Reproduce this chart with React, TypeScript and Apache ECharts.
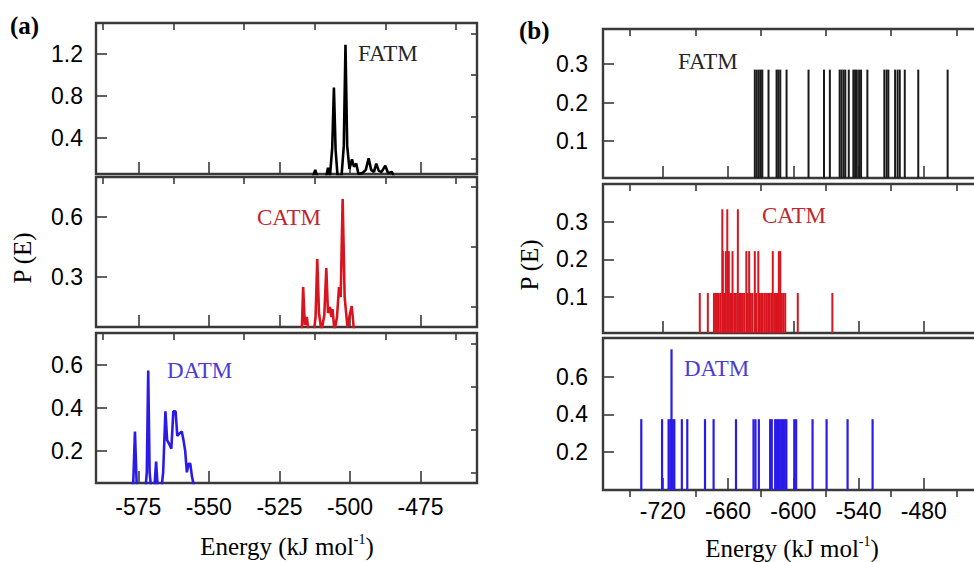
import React, { useEffect, useRef } from "react";
import * as echarts from "echarts";

// ---------- Panel (a): continuous energy distributions ----------
const aFatm: [number, number][] = [
  [-513.5, 0], [-512.3, 0.09], [-511.4, 0], [-508.6, 0], [-507.8, 0.11], [-507.1, 0.03],
  [-506.3, 0.3], [-505.7, 0.88], [-505.1, 0.28], [-504.4, 0.03], [-503.0, 0.03],
  [-502.2, 0.32], [-501.6, 1.29], [-501.0, 0.32], [-500.2, 0.1], [-499.3, 0.19],
  [-498.6, 0.12], [-497.8, 0.15], [-497.0, 0.05], [-495.6, 0.06], [-494.4, 0.09],
  [-493.4, 0.2], [-492.5, 0.09], [-491.5, 0.07], [-490.7, 0.15], [-489.8, 0.08],
  [-488.8, 0.07], [-487.5, 0.13], [-486.5, 0.06], [-485.2, 0.07], [-484.0, 0]
];
const aCatm: [number, number][] = [
  [-518.0, 0], [-517.1, 0.02], [-516.6, 0.25], [-516.0, 0.06], [-515.3, 0.1], [-514.6, 0.01],
  [-513.0, 0], [-512.2, 0.1], [-511.6, 0.39], [-511.0, 0.12], [-510.1, 0.03], [-509.1, 0.11],
  [-508.4, 0.345], [-507.8, 0.12], [-507.1, 0.15], [-506.6, 0.1], [-506.2, 0.14], [-505.5, 0.03],
  [-504.6, 0.1], [-503.9, 0.25], [-503.3, 0.2], [-502.6, 0.69], [-501.9, 0.2], [-500.9, 0.05],
  [-500.1, 0.11], [-499.4, 0.155], [-498.7, 0.05], [-497.8, 0]
];
const aDatm: [number, number][] = [
  [-577.6, 0], [-576.8, 0.05], [-576.2, 0.29], [-575.6, 0.05], [-575.0, 0], [-572.6, 0],
  [-572.0, 0.1], [-571.5, 0.575], [-571.0, 0.1], [-570.3, 0], [-569.3, 0.03], [-568.7, 0.15],
  [-568.1, 0.02], [-567.0, 0], [-566.2, 0.1], [-565.4, 0.385], [-564.8, 0.25], [-564.0, 0.23],
  [-563.3, 0.21], [-562.6, 0.385], [-561.8, 0.385], [-561.2, 0.27], [-560.5, 0.28],
  [-559.6, 0.29], [-559.0, 0.25], [-558.4, 0.2], [-557.8, 0.1], [-557.2, 0.14], [-556.6, 0.14],
  [-556.0, 0.08], [-555.5, 0.05], [-554.8, 0]
];

// ---------- Panel (b): discrete conformer energies (sticks) ----------
const bFatmE = [
  -635.4, -633.6, -631.7, -629.9, -628.5, -622.8, -615.4, -613.8, -612.0, -606.2, -586.0,
  -571.8, -566.4, -557.4, -555.7, -553.8, -552.2, -549.0, -544.8, -543.2, -541.6, -539.5,
  -537.7, -531.9, -516.3, -514.2, -512.6, -506.4, -504.1, -502.1, -497.5, -485.1, -458.1
];
const bFatmP = 0.285;
const bCatm: [number, number][] = [
  [-686.0, 0.111], [-678.6, 0.111], [-673.0, 0.111], [-671.5, 0.111], [-670.2, 0.111],
  [-668.6, 0.111], [-667.0, 0.111], [-665.3, 0.333], [-664.8, 0.222], [-663.6, 0.111],
  [-662.1, 0.222], [-660.7, 0.333], [-659.3, 0.222], [-658.0, 0.111], [-656.9, 0.111],
  [-655.9, 0.222], [-654.3, 0.111], [-652.8, 0.111], [-651.0, 0.333], [-649.6, 0.111],
  [-648.2, 0.111], [-646.8, 0.111], [-645.2, 0.111], [-643.2, 0.222], [-642.0, 0.111],
  [-640.6, 0.222], [-639.1, 0.111], [-637.6, 0.111], [-635.4, 0.222], [-634.2, 0.111],
  [-632.2, 0.222], [-631.0, 0.111], [-629.6, 0.111], [-628.1, 0.111], [-626.4, 0.111],
  [-624.9, 0.111], [-623.2, 0.111], [-621.8, 0.111], [-620.2, 0.111], [-618.9, 0.222],
  [-617.4, 0.111], [-615.9, 0.111], [-614.6, 0.111], [-613.3, 0.222], [-612.0, 0.222],
  [-610.6, 0.111], [-609.1, 0.111], [-607.4, 0.111], [-595.9, 0.111], [-564.1, 0.111]
];
const bDatm: [number, number][] = [
  [-739.8, 0.375], [-720.7, 0.375], [-714.7, 0.375], [-713.1, 0.375], [-712.0, 0.745],
  [-710.8, 0.375], [-709.4, 0.375], [-702.5, 0.375], [-697.5, 0.375], [-681.2, 0.375],
  [-673.3, 0.375], [-652.7, 0.375], [-636.6, 0.375], [-634.8, 0.375], [-631.7, 0.375],
  [-621.3, 0.375], [-619.8, 0.375], [-616.7, 0.375], [-615.4, 0.375], [-614.0, 0.375],
  [-612.4, 0.375], [-610.9, 0.375], [-609.4, 0.375], [-607.8, 0.375], [-606.4, 0.375],
  [-599.1, 0.375], [-597.4, 0.375], [-582.3, 0.375], [-569.4, 0.375], [-550.1, 0.375],
  [-527.1, 0.375]
];

// ---------- Tick values ----------
const xTicksA = [-575, -550, -525, -500, -475];
const xMinorA = [-587.5, -562.5, -537.5, -512.5, -487.5, -462.5];
const xTicksB = [-720, -660, -600, -540, -480, -420];
const xLabelsB = [-720, -660, -600, -540, -480];
const xMinorB = [-750, -690, -630, -570, -510, -450];

const yTicksA0 = [0.4, 0.8, 1.2];
const yMinorA0 = [0.2, 0.6, 1.0, 1.4];
const yTicksA1 = [0.3, 0.6];
const yMinorA1 = [0.15, 0.45, 0.75];
const yTicksA2 = [0.2, 0.4, 0.6];
const yMinorA2 = [0.1, 0.3, 0.5, 0.7];
const yTicksB0 = [0.1, 0.2, 0.3];
const yMinorB0 = [0.05, 0.15, 0.25, 0.35];
const yTicksB1 = [0.1, 0.2, 0.3];
const yMinorB1 = [0.05, 0.15, 0.25, 0.35];
const yTicksB2 = [0.2, 0.4, 0.6];
const yMinorB2 = [0.1, 0.3, 0.5, 0.7];

const FRAME = "#3a3a3a";
const SANS = "Liberation Sans, Arial, sans-serif";
const SERIF = "Liberation Serif, Times New Roman, serif";

export default function App() {
  const ref = useRef<HTMLDivElement>(null);
  useEffect(() => {
    if (!ref.current) return;
    const chart = echarts.init(ref.current, undefined, { renderer: "svg" });

    const grids = [
      { left: 96, top: 23, width: 381, height: 151 },
      { left: 96, top: 177, width: 381, height: 150 },
      { left: 96, top: 333, width: 381, height: 150 },
      { left: 603, top: 29, width: 391.5, height: 149 },
      { left: 603, top: 184, width: 391.5, height: 149 },
      { left: 603, top: 338, width: 391.5, height: 152 }
    ].map((g) => ({
      ...g, show: true, borderColor: FRAME, borderWidth: 2.4, backgroundColor: "transparent",
      containLabel: false, outerBoundsMode: "none"
    }));

    const xRange = [
      [-590, -455], [-590, -455], [-590, -455],
      [-775, -415], [-775, -415], [-775, -415]
    ];
    const yRange = [
      [0.05, 1.5], [0.05, 0.8], [0.05, 0.75],
      [0.005, 0.39], [0.005, 0.4], [0, 0.805]
    ];
    const yMaj = [yTicksA0, yTicksA1, yTicksA2, yTicksB0, yTicksB1, yTicksB2];
    const yMin = [yMinorA0, yMinorA1, yMinorA2, yMinorB0, yMinorB1, yMinorB2];

    const xAxes: any[] = [];
    const yAxes: any[] = [];
    for (let i = 0; i < 6; i++) {
      const isA = i < 3;
      const showLabel = i === 2 || i === 5;
      const maj = isA ? xTicksA : xTicksB;
      const lab = isA ? xTicksA : xLabelsB;
      const mnr = isA ? xMinorA : xMinorB;
      xAxes.push({
        type: "value", gridIndex: i, min: xRange[i][0], max: xRange[i][1],
        axisLine: { show: false }, splitLine: { show: false },
        axisTick: { show: true, inside: true, length: 12, customValues: maj, lineStyle: { color: FRAME, width: 1.6 } },
        axisLabel: { show: showLabel, customValues: lab, margin: isA ? 12 : 9, color: "#000", fontFamily: SANS, fontSize: 23 }
      });
      xAxes.push({
        type: "value", gridIndex: i, min: xRange[i][0], max: xRange[i][1],
        axisLine: { show: false }, splitLine: { show: false }, axisLabel: { show: false },
        axisTick: { show: true, inside: true, length: 7, customValues: mnr, lineStyle: { color: FRAME, width: 1.6 } }
      });
      yAxes.push({
        type: "value", gridIndex: i, min: yRange[i][0], max: yRange[i][1],
        axisLine: { show: false }, splitLine: { show: false },
        axisTick: { show: true, inside: true, length: 11, customValues: yMaj[i], lineStyle: { color: FRAME, width: 1.6 } },
        axisLabel: { show: true, customValues: yMaj[i], margin: isA ? 13 : 15, color: "#000", fontFamily: SANS, fontSize: 23 }
      });
      yAxes.push({
        type: "value", gridIndex: i, min: yRange[i][0], max: yRange[i][1],
        axisLine: { show: false }, splitLine: { show: false }, axisLabel: { show: false },
        axisTick: { show: true, inside: true, length: 6, customValues: yMin[i], lineStyle: { color: FRAME, width: 1.6 } }
      });
    }

    const lineSeries = (data: [number, number][], idx: number, color: string) => ({
      type: "line", xAxisIndex: idx * 2, yAxisIndex: idx * 2, data,
      showSymbol: false, symbol: "none", clip: true,
      lineStyle: { color, width: 2.6 }
    });
    const stickSeries = (data: [number, number][], idx: number, color: string, w: number) => {
      const base = yRange[idx][0];
      return {
        type: "custom", xAxisIndex: idx * 2, yAxisIndex: idx * 2, data,
        encode: { x: 0, y: 1 },
        renderItem: (_p: any, api: any) => {
          const x = api.value(0);
          const y = api.value(1);
          const p0 = api.coord([x, base]);
          const p1 = api.coord([x, y]);
          return {
            type: "line",
            shape: { x1: p0[0], y1: p0[1], x2: p1[0], y2: p1[1] },
            style: { stroke: color, lineWidth: w }
          };
        }
      };
    };

    const fatmSticks: [number, number][] = bFatmE.map((e) => [e, bFatmP]);

    const txt = (text: string, x: number, y: number, font: string, fill: string, align = "left", extra: any = {}) => ({
      type: "text", x, y, ...extra,
      style: { text, font, fill, textAlign: align, textVerticalAlign: "middle" }
    });

    const energyLabel = (cx: number, cy: number) => ({
      type: "text", x: cx, y: cy,
      style: {
        text: "{a|Energy (kJ mol}{s|-1}{a|)}",
        textAlign: "center", textVerticalAlign: "middle",
        rich: {
          a: { fontFamily: SERIF, fontSize: 25, fill: "#000", color: "#000", lineHeight: 28 },
          s: { fontFamily: SERIF, fontSize: 14, fill: "#000", color: "#000", verticalAlign: "top", lineHeight: 14 }
        }
      }
    });

    chart.setOption({
      animation: false,
      backgroundColor: "#fff",
      grid: grids,
      xAxis: xAxes,
      yAxis: yAxes,
      series: [
        lineSeries(aFatm, 0, "#000000"),
        lineSeries(aCatm, 1, "#d8141e"),
        lineSeries(aDatm, 2, "#2b1be8"),
        stickSeries(fatmSticks, 3, "#1a1a1a", 2),
        stickSeries(bCatm, 4, "#d8141e", 2),
        stickSeries(bDatm, 5, "#2b1be8", 2.2)
      ],
      graphic: [
        txt("(a)", 10, 25, `bold 25px ${SERIF}`, "#000"),
        txt("(b)", 519, 30, `bold 25px ${SERIF}`, "#000"),
        txt("FATM", 358, 53, `23px ${SERIF}`, "#262626"),
        txt("CATM", 257, 217.5, `23px ${SERIF}`, "#c0282f"),
        txt("DATM", 167, 370, `23px ${SERIF}`, "#4b3bd4"),
        txt("FATM", 678, 61.5, `23px ${SERIF}`, "#262626"),
        txt("CATM", 762, 215, `23px ${SERIF}`, "#c0282f"),
        txt("DATM", 684, 368, `23px ${SERIF}`, "#4b3bd4"),
        txt("P (E)", 22.5, 258, `25px ${SERIF}`, "#000", "center", { rotation: Math.PI / 2 }),
        txt("P (E)", 529.5, 265, `25px ${SERIF}`, "#000", "center", { rotation: Math.PI / 2 }),
        energyLabel(287, 546),
        energyLabel(792, 548)
      ]
    });
    return () => chart.dispose();
  }, []);
  return <div ref={ref} style={{ position: "absolute", left: 0, top: 0, width: 974, height: 562 }} />;
}
